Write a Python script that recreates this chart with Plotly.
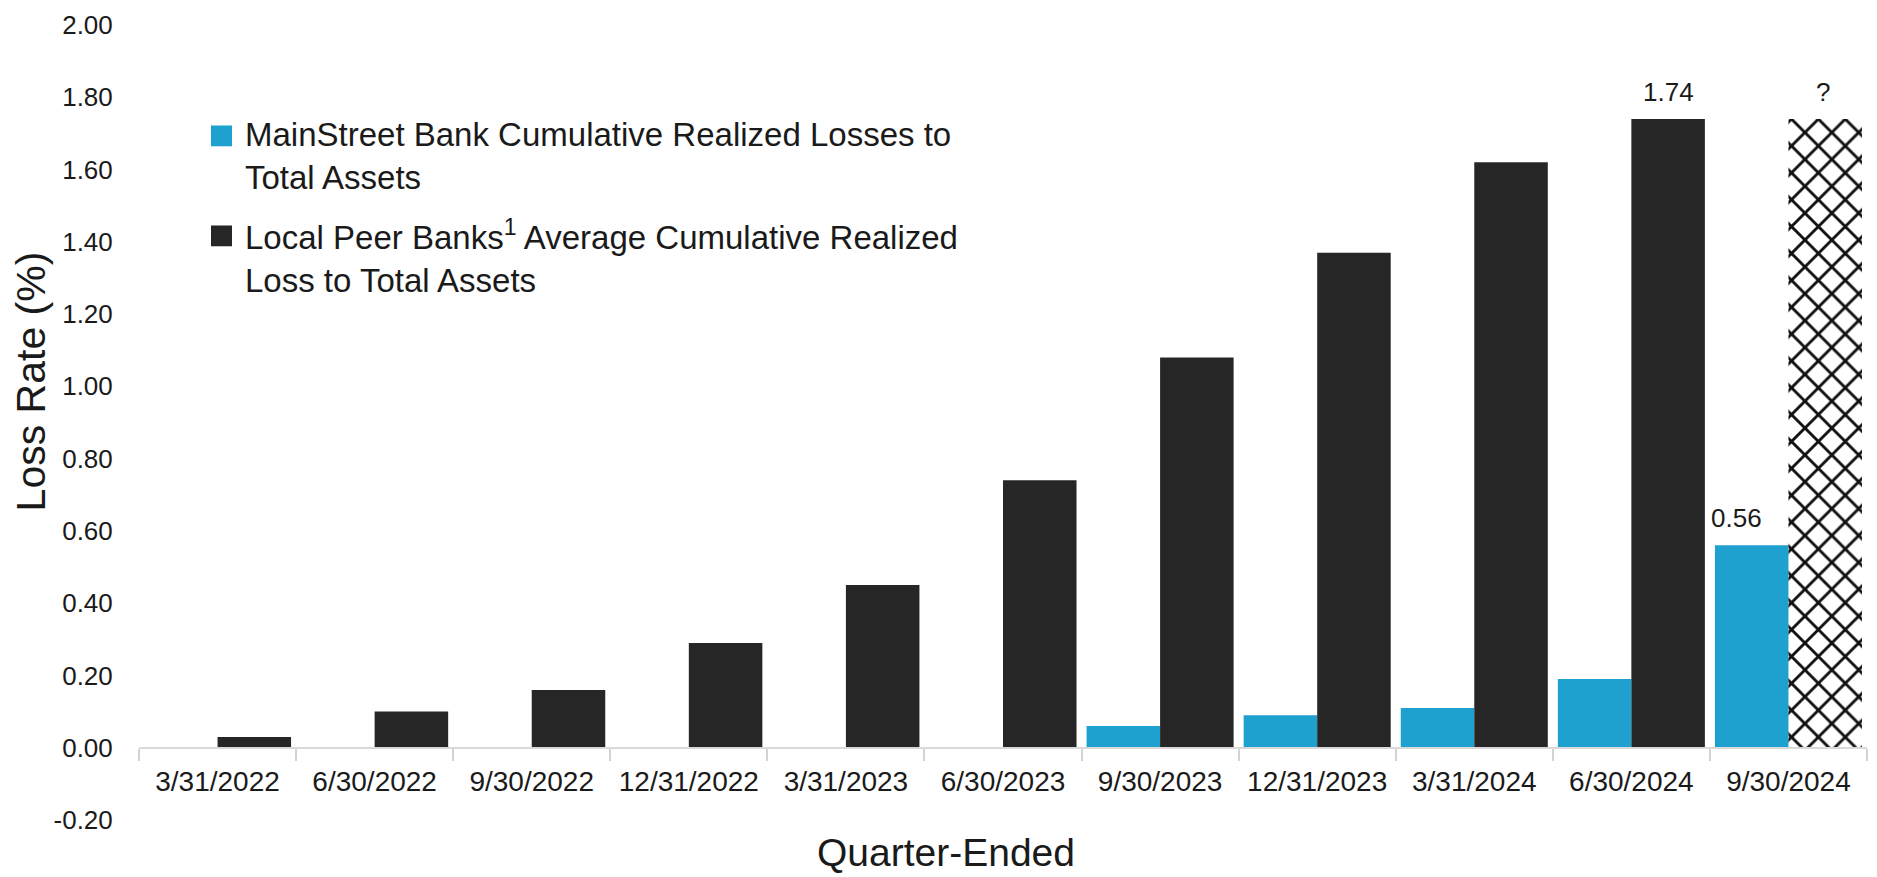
import plotly.graph_objects as go

# Quarter-end dates on the category axis
quarters = [
    "3/31/2022", "6/30/2022", "9/30/2022", "12/31/2022",
    "3/31/2023", "6/30/2023", "9/30/2023", "12/31/2023",
    "3/31/2024", "6/30/2024", "9/30/2024",
]

# Cumulative realized losses to total assets (%)
mainstreet_loss = [0, 0, 0, 0, 0, 0, 0.06, 0.09, 0.11, 0.19, 0.56]
peer_loss = [0.03, 0.10, 0.16, 0.29, 0.45, 0.74, 1.08, 1.37, 1.62, 1.74, 1.74]

# The last peer quarter is not yet known: drawn hatched and labelled "?"
peer_pending = [False] * 10 + [True]

# Quarters whose values are printed above the bars
mainstreet_labelled = ["9/30/2024"]
peer_labelled = ["6/30/2024"]

# Y-axis ticks
y_ticks = [-0.2, 0.0, 0.2, 0.4, 0.6, 0.8, 1.0, 1.2, 1.4, 1.6, 1.8, 2.0]
y_tick_labels = [f"{v:.2f}" for v in y_ticks]

legend_names = [
    "MainStreet Bank Cumulative Realized Losses to<br>Total Assets",
    "Local Peer Banks<sup>1</sup> Average Cumulative Realized<br>Loss to Total Assets",
]

BLUE = "#1FA1D0"
DARK = "#262626"
TEXT = "#1a1a1a"
FONT = "Liberation Sans"

W, H = 1877, 877
M_L, M_R, M_T, M_B = 139, 10, 17, 57
PW = W - M_L - M_R
PH = H - M_T - M_B


def px_x(px):
    return (px - M_L) / PW


def px_y(py):
    return (H - M_B - py) / PH


peer_colors = ["#111111" if p else DARK for p in peer_pending]
peer_shapes = ["x" if p else "" for p in peer_pending]

fig = go.Figure()
fig.add_trace(go.Bar(
    x=quarters, y=mainstreet_loss, name=legend_names[0],
    marker=dict(color=BLUE, line=dict(width=0)),
    showlegend=False,
))
fig.add_trace(go.Bar(
    x=quarters, y=peer_loss, name=legend_names[1],
    marker=dict(
        color=peer_colors,
        line=dict(width=0),
        pattern=dict(shape=peer_shapes, bgcolor="#f7f7f7",
                     size=19, solidity=0.28, fillmode="replace"),
    ),
    showlegend=False,
))

annotations = []
label_font = dict(family=FONT, size=26, color=TEXT)
BAR_OFFSET = 37  # half a category, in px, to reach each bar's centre
for q, v in zip(quarters, mainstreet_loss):
    if q in mainstreet_labelled:
        annotations.append(dict(x=q, y=v, xref="x", yref="y", text=f"{v:.2f}",
                                showarrow=False, xshift=-BAR_OFFSET - 15, yshift=27,
                                yanchor="middle", font=label_font))
for q, v, pend in zip(quarters, peer_loss, peer_pending):
    if pend:
        annotations.append(dict(x=q, y=v, xref="x", yref="y", text="?",
                                showarrow=False, xshift=BAR_OFFSET - 2, yshift=27,
                                yanchor="middle", font=label_font))
    elif q in peer_labelled:
        annotations.append(dict(x=q, y=v, xref="x", yref="y", text=f"{v:.2f}",
                                showarrow=False, xshift=BAR_OFFSET, yshift=27,
                                yanchor="middle", font=label_font))

# Axis titles
annotations.append(dict(x=px_x(946), y=px_y(853), xref="paper", yref="paper",
                        text="Quarter-Ended", showarrow=False,
                        xanchor="center", yanchor="middle",
                        font=dict(family=FONT, size=39, color=TEXT)))
annotations.append(dict(x=px_x(31), y=px_y(377), xref="paper", yref="paper",
                        text="Loss Rate (%)", showarrow=False, textangle=-90,
                        xanchor="center", yanchor="middle",
                        font=dict(family=FONT, size=41, color=TEXT)))

# Legend: swatches and wrapped labels
shapes = []
for name, color, cy in zip(legend_names, [BLUE, DARK], [129, 230]):
    shapes.append(dict(type="rect", xref="paper", yref="paper",
                       x0=px_x(211), x1=px_x(232),
                       y0=px_y(cy + 10.5), y1=px_y(cy - 10.5),
                       fillcolor=color, line=dict(width=0)))
    annotations.append(dict(x=px_x(243), y=px_y(cy + 20.5), xref="paper", yref="paper",
                            text=name, showarrow=False, align="left",
                            xanchor="left", yanchor="middle",
                            font=dict(family=FONT, size=33, color=TEXT)))

fig.update_layout(
    width=W, height=H,
    margin=dict(l=M_L, r=M_R, t=M_T, b=M_B, pad=0),
    paper_bgcolor="white", plot_bgcolor="white",
    barmode="group", bargap=0.064, bargroupgap=0,
    showlegend=False,
    font=dict(family=FONT, color=TEXT),
    annotations=annotations,
    shapes=shapes,
    xaxis=dict(
        type="category", range=[-0.5, 10.5],
        anchor="free", position=0.2 / 2.2,
        showline=True, linecolor="#d9d9d9", linewidth=2,
        ticks="outside", tickson="boundaries", ticklen=12,
        tickwidth=1.5, tickcolor="#d4d4d4",
        ticklabelstandoff=9,
        tickfont=dict(family=FONT, size=28, color=TEXT),
        showgrid=False, zeroline=False,
    ),
    yaxis=dict(
        range=[-0.2, 2.0],
        tickvals=y_ticks, ticktext=y_tick_labels,
        showgrid=False, zeroline=False, showline=False,
        ticks="outside", ticklen=20, tickcolor="rgba(0,0,0,0)",
        tickfont=dict(family=FONT, size=26, color=TEXT),
    ),
)

fig.write_html("out.html")
